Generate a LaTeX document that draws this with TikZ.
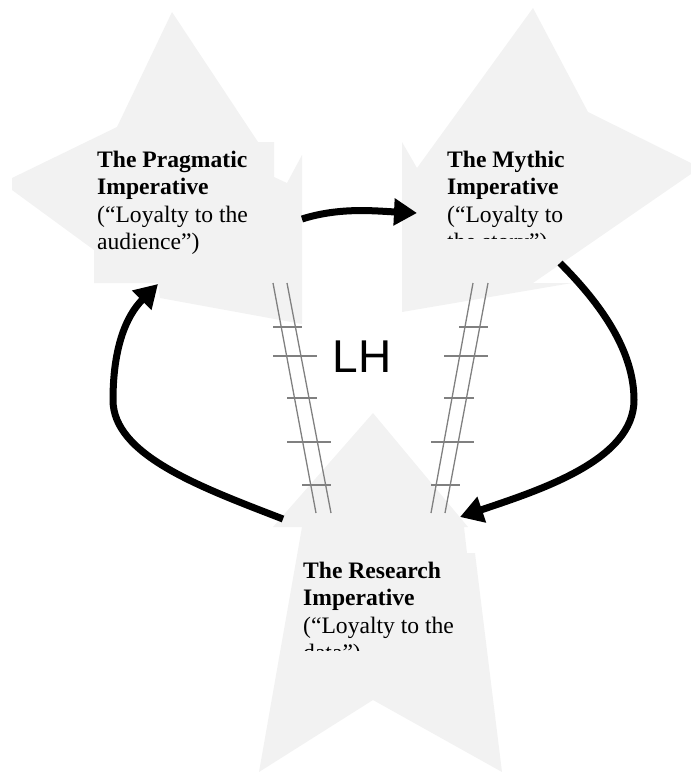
\documentclass[tikz,border=0pt]{standalone}
\usepackage{fontspec}
\setmainfont{Liberation Serif}
\newfontfamily\lhfont{Liberation Sans}
\usetikzlibrary{arrows.meta}
\definecolor{starfill}{RGB}{242,242,242}
\definecolor{railgray}{RGB}{128,128,128}
\tikzset{
  starshape/.style={fill=starfill, draw=none},
  rail/.style={draw=railgray, line width=1.3pt},
  flow/.style={line width=7pt, -{Triangle[length=23pt,width=26pt]}},
  boxtext/.style={anchor=base west, inner sep=0pt, font=\fontsize{23.6}{27.5}\selectfont},
}
\begin{document}
\begin{tikzpicture}[x=1pt,y=-1pt]
\useasboundingbox (0,0) rectangle (691,772);
% stars
\fill[starshape] (172,12) -- (258,142) -- (274,142) -- (274,177) -- (287,183) -- (302,155)
  -- (302,324) -- (160,298) -- (158,283) -- (94,283) -- (94,250) -- (12,190) -- (12,178)
  -- (117,127) -- cycle;
\fill[starshape] (533,8) -- (588,112) -- (691,163) -- (691,174) -- (533,283) -- (572,283)
  -- (402,312) -- (402,142) -- (417,168) -- cycle;
\fill[starshape] (373,413) -- (468,527) -- (464,527) -- (467,553) -- (475,553) -- (502,772)
  -- (373,700) -- (259,772) -- (302,527) -- (273,527) -- cycle;
% ladders
\draw[rail] (273,283) -- (316,513);
\draw[rail] (287,283) -- (331,513);
\draw[rail] (273,327) -- (302,327);
\draw[rail] (273,356) -- (317,356);
\draw[rail] (287,398) -- (317,398);
\draw[rail] (287,442) -- (331,442);
\draw[rail] (302,485) -- (331,485);
\draw[rail] (473,283) -- (431,513);
\draw[rail] (488,283) -- (445,513);
\draw[rail] (459,327) -- (488,327);
\draw[rail] (444,356) -- (488,356);
\draw[rail] (444,398) -- (474,398);
\draw[rail] (431,442) -- (474,442);
\draw[rail] (431,485) -- (460,485);
% LH
\node[font=\lhfont\fontsize{46}{50}\selectfont, inner sep=0pt] (LH) at (362,357) {LH};
% texts
\node[boxtext] (Ptext) at (97,167) {\begin{tabular}[t]{@{}l@{}}\textbf{The Pragmatic}\\\textbf{Imperative}\\(“Loyalty to the\\audience”)\end{tabular}};
\begin{scope}
\clip (430,100) rectangle (600,238);
\node[boxtext] (Mtext) at (447,167) {\begin{tabular}[t]{@{}l@{}}\textbf{The Mythic}\\\textbf{Imperative}\\(“Loyalty to\\the story”)\end{tabular}};
\end{scope}
\begin{scope}
\clip (290,540) rectangle (480,650);
\node[boxtext] (Rtext) at (303,578) {\begin{tabular}[t]{@{}l@{}}\textbf{The Research}\\\textbf{Imperative}\\(“Loyalty to the\\data”)\end{tabular}};
\end{scope}
% connector end points
\coordinate (Pout) at (302,219);
\coordinate (Min) at (417,213);
\coordinate (Mout) at (560,263);
\coordinate (Rin) at (460,517);
\coordinate (Rout) at (283,519);
\coordinate (Pin) at (158,284);
\draw[flow] (Pout) .. controls (340,207) and (375,211) .. (Min);
\draw[flow] (Mout) .. controls (600,303) and (634,350) .. (634,400)
  .. controls (634,460) and (540,490) .. (Rin);
\draw[flow] (Rout) .. controls (200,487) and (113,455) .. (113,400)
  .. controls (113,350) and (125,317) .. (Pin);
\end{tikzpicture}
\end{document}
